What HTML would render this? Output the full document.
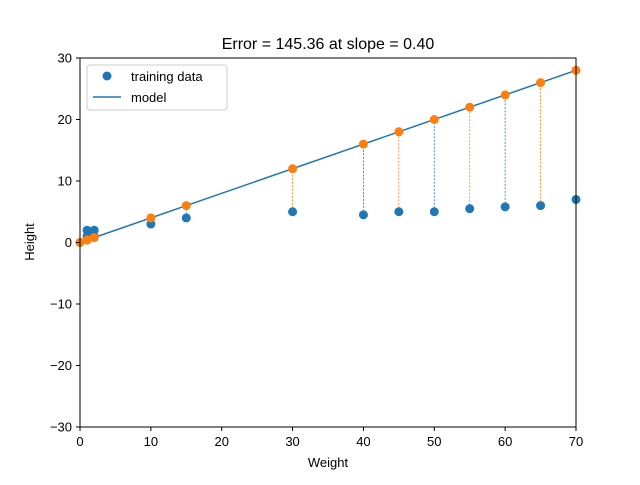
<!DOCTYPE html>
<html><head><meta charset="utf-8"><style>body{margin:0;background:#fff}svg text{font-family:"Liberation Sans","DejaVu Sans",sans-serif}</style></head>
<body>
<svg id="chart" width="640" height="480" xmlns="http://www.w3.org/2000/svg">
<rect width="640" height="480" fill="#fff"/>
<text x="328" y="49" font-size="16" text-anchor="middle">Error = 145.36 at slope = 0.40</text>
<g id="plot"></g>
<rect x="80" y="58" width="496" height="369" fill="none" stroke="#000" stroke-width="1"/>
<g id="ticks"></g>
<text x="328" y="467" font-size="13" text-anchor="middle">Weight</text>
<text transform="translate(34,242) rotate(-90)" font-size="13" text-anchor="middle">Height</text>
<g>
<rect x="87" y="65" width="140" height="45" rx="3" fill="#fff" fill-opacity="0.8" stroke="#ccc"/>
<circle cx="107" cy="76" r="4.5" fill="#1f77b4"/>
<text x="131" y="81" font-size="13">training data</text>
<line x1="93" y1="97" x2="121" y2="97" stroke="#1f77b4" stroke-width="1.5"/>
<text x="131" y="102" font-size="13">model</text>
</g>
<script>
const weights=[0,1,2,1,2,10,15,30,40,45,50,55,60,65,70];
const heights=[0,2,2,1,1,3,4,5,4.5,5,5,5.5,5.8,6,7];
const slope=0.4;
const xTicks=[0,10,20,30,40,50,60,70];
const yTicks=[30,20,10,0,-10,-20,-30];
const X=v=>80+(v-0)/70*496, Y=v=>58+(30-v)/60*369;
const ns="http://www.w3.org/2000/svg";
const plot=document.getElementById('plot'), tk=document.getElementById('ticks');
function mk(tag,a,p){const e=document.createElementNS(ns,tag);for(const k in a)e.setAttribute(k,a[k]);p.appendChild(e);return e;}
const cols=['#1f77b4','#ff7f0e'];
weights.forEach((w,i)=>{const l=mk('line',{x1:X(w),x2:X(w),y1:Y(heights[i]),y2:Y(w*slope),stroke:cols[i%2],'stroke-width':0.8,'stroke-dasharray':'2,1.5'},plot);

});
weights.forEach((w,i)=>{const c=mk('circle',{cx:X(w),cy:Y(heights[i]),r:4.5,fill:'#1f77b4'},plot);

});
const ml=mk('line',{x1:X(0),y1:Y(0),x2:X(70),y2:Y(70*slope),stroke:'#1f77b4','stroke-width':1.5},plot);


weights.forEach((w,i)=>{const c=mk('circle',{cx:X(w),cy:Y(w*slope),r:4.5,fill:'#ff7f0e'},plot);

});
xTicks.forEach(t=>{mk('line',{x1:X(t),x2:X(t),y1:427,y2:431,stroke:'#000'},tk);const s=mk('text',{x:X(t),y:446,'font-size':13,'text-anchor':'middle'},tk);s.textContent=t;

});
yTicks.forEach(t=>{mk('line',{x1:76,x2:80,y1:Y(t),y2:Y(t),stroke:'#000'},tk);const s=mk('text',{x:72,y:Y(t)+4.5,'font-size':13,'text-anchor':'end'},tk);s.textContent=t<0?'\u2212'+(-t):t;

});
</script>
</svg>
</body></html>
